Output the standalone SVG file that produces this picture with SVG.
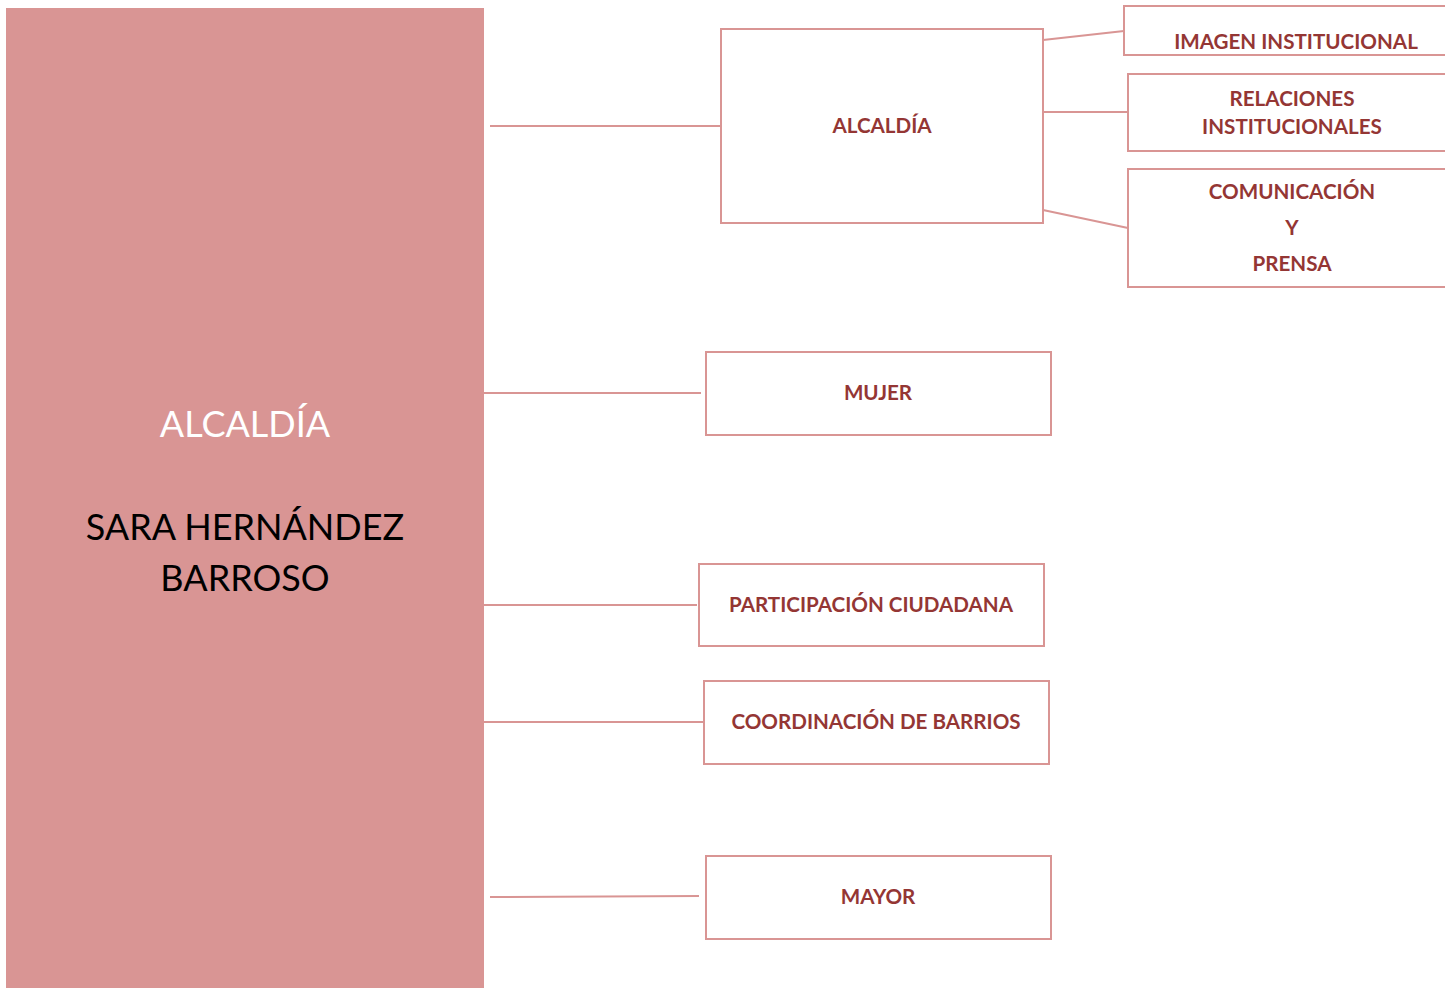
<svg xmlns="http://www.w3.org/2000/svg" width="1445" height="988" viewBox="0 0 1445 988">
<style>
.box{fill:#fff;stroke:#d99594;stroke-width:2}
.lbl{font-family:Lato,"Liberation Sans",sans-serif;font-weight:bold;font-size:20.6px;fill:#943634;text-anchor:middle}
.big{font-family:Lato,"Open Sans",sans-serif;font-size:36px;text-anchor:middle}
.ln{stroke:#d99594;stroke-width:2;fill:none}
</style>
<rect width="1445" height="988" fill="#fff"/>
<g id="main">
<rect x="6" y="8" width="478" height="980" fill="#d99594"/>
<text class="big" x="245" y="437" fill="#fff">ALCALDÍA</text>
<text class="big" x="245" y="540" fill="#000">SARA HERNÁNDEZ</text>
<text class="big" x="245" y="591" fill="#000">BARROSO</text>
</g>
<g id="connectors">
<line class="ln" x1="490" y1="126" x2="721" y2="126"/>
<line class="ln" x1="484" y1="393" x2="701" y2="393"/>
<line class="ln" x1="484" y1="605" x2="697" y2="605"/>
<line class="ln" x1="484" y1="722" x2="703" y2="722"/>
<line class="ln" x1="490" y1="897" x2="699" y2="896"/>
<line class="ln" x1="1043" y1="40" x2="1124" y2="31"/>
<line class="ln" x1="1043" y1="112" x2="1128" y2="112"/>
<line class="ln" x1="1043" y1="210" x2="1128" y2="228"/>
</g>
<g id="alcaldia">
<rect class="box" x="721" y="29" width="322" height="194"/>
<text class="lbl" x="882" y="133">ALCALDÍA</text>
</g>
<g id="imagen">
<rect class="box" x="1124" y="6" width="330" height="49"/>
<text class="lbl" x="1296" y="49">IMAGEN INSTITUCIONAL</text>
</g>
<g id="relaciones">
<rect class="box" x="1128" y="74" width="326" height="77"/>
<text class="lbl" x="1292" y="106">RELACIONES</text>
<text class="lbl" x="1292" y="134">INSTITUCIONALES</text>
</g>
<g id="comunicacion">
<rect class="box" x="1128" y="169" width="326" height="118"/>
<text class="lbl" x="1292" y="199">COMUNICACIÓN</text>
<text class="lbl" x="1292" y="235">Y</text>
<text class="lbl" x="1292" y="271">PRENSA</text>
</g>
<g id="mujer">
<rect class="box" x="706" y="352" width="345" height="83"/>
<text class="lbl" x="878" y="400">MUJER</text>
</g>
<g id="participacion">
<rect class="box" x="699" y="564" width="345" height="82"/>
<text class="lbl" x="871" y="612">PARTICIPACIÓN CIUDADANA</text>
</g>
<g id="coordinacion">
<rect class="box" x="704" y="681" width="345" height="83"/>
<text class="lbl" x="876" y="729">COORDINACIÓN DE BARRIOS</text>
</g>
<g id="mayor">
<rect class="box" x="706" y="856" width="345" height="83"/>
<text class="lbl" x="878" y="904">MAYOR</text>
</g>
</svg>
